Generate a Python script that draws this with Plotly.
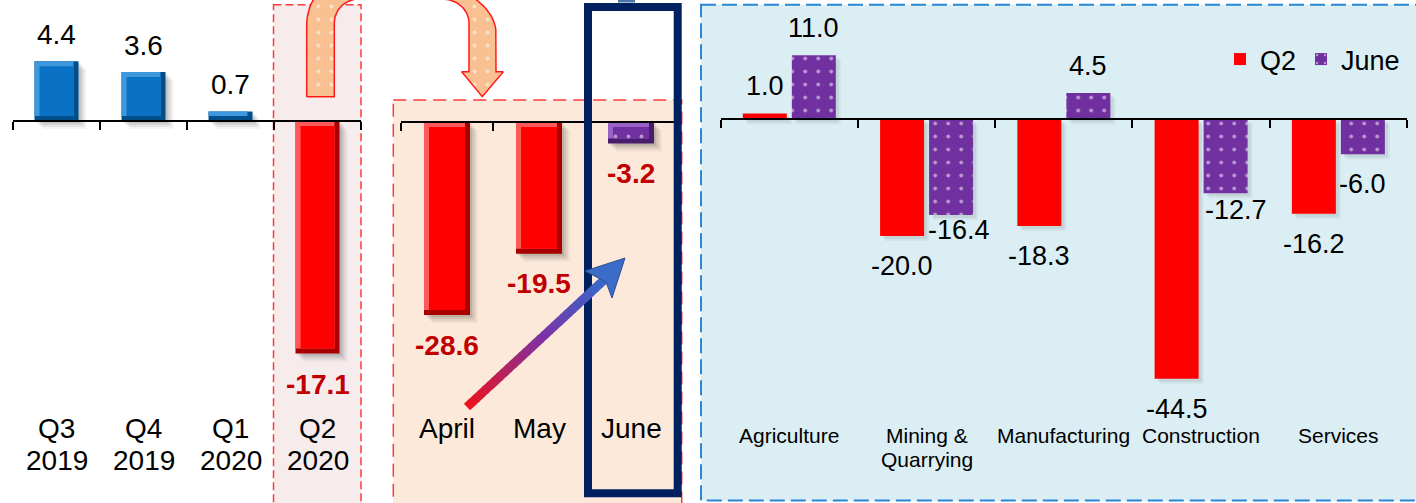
import numpy as np
import plotly.graph_objects as go

W, H = 1416, 503
FONT = "Arial, 'Liberation Sans', Helvetica, sans-serif"

# ---------------- data ----------------
quarters = ["Q3<br>2019", "Q4<br>2019", "Q1<br>2020", "Q2<br>2020"]
quarter_growth = [4.4, 3.6, 0.7, -17.1]

months = ["April", "May", "June"]
month_growth = [-28.6, -19.5, -3.2]

sectors = ["Agriculture", "Mining &<br>Quarrying", "Manufacturing", "Construction", "Services"]
sector_q2 = [1.0, -20.0, -18.3, -44.5, -16.2]
sector_june = [11.0, -16.4, 4.5, -12.7, -6.0]
series_names = ["Q2", "June"]

# ---------------- styling ----------------
RED, RED_DARK, RED_LIGHT = "#FF0000", "#A80000", "#FF5A5A"
BLUE, BLUE_DARK, BLUE_LIGHT = "#0A72C4", "#004E8A", "#3E98DE"
PURPLE, PURPLE_DARK, PURPLE_LIGHT = "#7030A0", "#4A1C6E", "#9A62C8"
LABEL_RED = "#C00000"
DOTS = dict(shape=".", fgcolor="white", size=13, solidity=0.07)

# panel geometry in pixels: left edge, right edge, zero-line y, pixels per point
PANELS = {
    "x": (13.0, 361.0, 121.0, 13.6),
    "x2": (401.0, 677.0, 122.0, 6.75),
    "x3": (720.7, 1407.0, 119.3, 5.83),
}


def fx(p):
    return p / W


def fy(p):
    return 1 - p / H


fig = go.Figure()


def add_layer(ax, cats, lows, highs, offset, width, color, pattern=None,
              name=None, showlegend=False):
    fig.add_trace(go.Bar(
        x=cats, y=[h - l for l, h in zip(lows, highs)], base=lows,
        offset=offset, width=width,
        xaxis=ax, yaxis=ax.replace("x", "y"),
        marker=dict(color=color, line=dict(width=0), pattern=pattern or {}),
        hoverinfo="skip", name=name, showlegend=showlegend,
    ))


def add_shadow(ax, cats, vals, off, w, layers):
    left, right, zero, ppu = PANELS[ax]
    cat_px = (right - left) / len(cats)
    for d, a in layers:
        lows = [min(v, 0) - d / ppu for v in vals]
        highs = [max(v, 0) - d / ppu for v in vals]
        add_layer(ax, cats, lows, highs, off + d / cat_px, w, f"rgba(30,30,30,{a})")


def bevel_bars(ax, cats, vals, bar_px, face, dark, light, patterns, inset=5):
    left, right, zero, ppu = PANELS[ax]
    cat_px = (right - left) / len(cats)
    w = bar_px / cat_px
    off = -w / 2
    add_shadow(ax, cats, vals, off, w, ((8, 0.05), (6, 0.07), (4, 0.09), (2, 0.10)))
    iy, ix = inset / ppu, inset / cat_px
    lo = [min(v, 0) for v in vals]
    hi = [max(v, 0) for v in vals]
    add_layer(ax, cats, lo, hi, off, w, dark)
    add_layer(ax, cats, [l + iy for l in lo], hi, off, w - ix, light)
    face_hi = [max(h - iy, l + iy) for l, h in zip(lo, hi)]
    for i in range(len(cats)):
        add_layer(ax, [cats[i]], [lo[i] + iy], [face_hi[i]], off + ix, w - 2 * ix,
                  face[i], patterns[i])


# ---- quarterly panel ----
q_face = [BLUE if v > 0 else RED for v in quarter_growth]
q_dark = [BLUE_DARK if v > 0 else RED_DARK for v in quarter_growth]
q_light = [BLUE_LIGHT if v > 0 else RED_LIGHT for v in quarter_growth]
bevel_bars("x", quarters, quarter_growth, 44, q_face, q_dark, q_light,
           [None] * len(quarters))

# ---- monthly panel ----
m_face = [RED, RED, PURPLE]
m_dark = [RED_DARK, RED_DARK, PURPLE_DARK]
m_light = [RED_LIGHT, RED_LIGHT, PURPLE_LIGHT]
m_pat = [None, None, dict(DOTS, bgcolor=PURPLE)]
bevel_bars("x2", months, month_growth, 46, m_face, m_dark, m_light, m_pat)

# ---- sector panel (grouped) ----
left3, right3, zero3, ppu3 = PANELS["x3"]
cat3 = (right3 - left3) / len(sectors)
bar_px, gap_px = 44, 5
w3 = bar_px / cat3
offsets = [-(bar_px + gap_px / 2) / cat3, (gap_px / 2) / cat3]
for vals, off in zip((sector_q2, sector_june), offsets):
    add_shadow("x3", sectors, vals, off, w3, ((5, 0.05), (3, 0.07)))
add_layer("x3", sectors, [min(v, 0) for v in sector_q2], [max(v, 0) for v in sector_q2],
          offsets[0], w3, RED, name=series_names[0], showlegend=True)
add_layer("x3", sectors, [min(v, 0) for v in sector_june], [max(v, 0) for v in sector_june],
          offsets[1], w3, PURPLE, pattern=dict(DOTS, bgcolor=PURPLE),
          name=series_names[1], showlegend=True)

# ---------------- value labels ----------------
ABOVE, BELOW = 27, 30


def value_label(ax, i, v, size, color, bold, xshift=0, nudge_y=0):
    txt = f"{v:.1f}"
    fig.add_annotation(
        x=i, y=v, xref=ax, yref=ax.replace("x", "y"),
        text=f"<b>{txt}</b>" if bold else txt, showarrow=False,
        xshift=xshift, yshift=(ABOVE if v > 0 else -BELOW) + nudge_y,
        font=dict(size=size, color=color, family=FONT),
    )


for i, v in enumerate(quarter_growth):
    if v > 0:
        value_label("x", i, v, 28, "black", False)
    else:
        value_label("x", i, v, 28, LABEL_RED, True, nudge_y=-1)
for i, v in enumerate(month_growth):
    value_label("x2", i, v, 28, LABEL_RED, True)

pair_shift = (bar_px + gap_px) / 2
june_nudge = [(0, 0), (8, 15), (0, 0), (10, 13), (0, 0)]
for i, v in enumerate(sector_q2):
    value_label("x3", i, v, 27, "black", False, xshift=-pair_shift)
for i, v in enumerate(sector_june):
    dx, dy = june_nudge[i]
    value_label("x3", i, v, 27, "black", False, xshift=pair_shift + dx, nudge_y=dy)

# ---------------- category labels ----------------


def category_labels(ax, cats, y0, step, size):
    for i, lab in enumerate(cats):
        for j, line in enumerate(lab.split("<br>")):
            fig.add_annotation(
                x=i, y=fy(y0 + step * j), xref=ax, yref="paper", text=line,
                showarrow=False, yanchor="middle",
                font=dict(size=size, color="black", family=FONT),
            )


category_labels("x", quarters, 428, 32, 28)
category_labels("x2", months, 428, 32, 28)
category_labels("x3", sectors, 435, 24, 21)

# ---------------- panel frames ----------------


def rect(x0, y0, x1, y1, **kw):
    fig.add_shape(type="rect", xref="paper", yref="paper",
                  x0=fx(x0), x1=fx(x1), y0=fy(y0), y1=fy(y1), **kw)


rect(273.5, 4.7, 361, 520, fillcolor="#F6ECEC",
     line=dict(color="#FF3B3B", width=1.5, dash="8px,4px"), layer="below")
rect(393.3, 100, 681.7, 520, fillcolor="#FCE9DA",
     line=dict(color="#FF3B3B", width=1.5, dash="13px,7px"), layer="below")
rect(701, 4.7, 1440, 500.5, fillcolor="#DAEEF3",
     line=dict(color="#2A86D6", width=2, dash="15px,6px"), layer="below")

# highlight frame round June
rect(588, 7, 677.7, 493.3, fillcolor="rgba(0,0,0,0)",
     line=dict(color="#002060", width=8), layer="above")
rect(618, -3, 635, 2.5, fillcolor="#4A76A8", line=dict(width=0), layer="above")

# rising gradient arrow across the months
tail = np.array([467.0, 407.0])
neck = np.array([604.0, 280.0])
stops = [(0.0, (235, 20, 30)), (0.55, (125, 50, 165)), (1.0, (55, 105, 205))]


def grad(t):
    for (t0, c0), (t1, c1) in zip(stops[:-1], stops[1:]):
        if t <= t1:
            u = (t - t0) / (t1 - t0)
            return "rgb(%d,%d,%d)" % tuple(int(a + (b - a) * u) for a, b in zip(c0, c1))
    return "rgb(%d,%d,%d)" % stops[-1][1]


n_seg = 30
for k in range(n_seg):
    p0 = tail + (neck - tail) * k / n_seg
    p1 = tail + (neck - tail) * min(1.0, (k + 1.2) / n_seg)
    fig.add_shape(type="line", xref="paper", yref="paper",
                  x0=fx(p0[0]), y0=fy(p0[1]), x1=fx(p1[0]), y1=fy(p1[1]),
                  line=dict(color=grad(k / (n_seg - 1)), width=9), layer="above")
head = [(625, 258), (585, 271), (606, 282), (612, 298)]
head_path = "M " + " L ".join(f"{fx(x)},{fy(y)}" for x, y in head) + " Z"
fig.add_shape(type="path", xref="paper", yref="paper", path=head_path,
              fillcolor="#3A6CC8", line=dict(color="#2A4F96", width=1), layer="above")

# ---------------- curved transition arrow (pixel overlay axes) ----------------


def arc(cx, cy, rx, ry, a0, a1, n=28):
    t = np.radians(np.linspace(a0, a1, n))
    return list(cx + rx * np.cos(t)), list(cy - ry * np.sin(t))


xs, ys = [306.7, 334.3, 334.3], [96.7, 96.7, 23.0]
for seg in (arc(358.7, 23, 24.4, 24, 180, 90), arc(442.4, 23, 26.6, 24, 90, 0)):
    xs += seg[0]
    ys += seg[1]
xs += [469, 461.7, 482.3, 503.3, 496, 496]
ys += [71.7, 71.7, 96.7, 71.7, 71.7, 33]
for seg in (arc(379, 33, 117, 60, 0, 90), arc(357.7, 25, 51, 52, 90, 180)):
    xs += seg[0]
    ys += seg[1]
xs.append(xs[0])
ys.append(ys[0])
fig.add_trace(go.Scatter(
    x=xs, y=ys, xaxis="x4", yaxis="y4", mode="lines", fill="toself",
    fillcolor="#F9C191",
    fillpattern=dict(shape=".", fgcolor="white", bgcolor="#F9C191", size=13, solidity=0.07),
    line=dict(color="#FF1A1A", width=1.5), hoverinfo="skip", showlegend=False,
))

# ---------------- layout ----------------
layout = dict(
    width=W, height=H, margin=dict(l=0, r=0, t=0, b=0),
    paper_bgcolor="white", plot_bgcolor="rgba(0,0,0,0)",
    barmode="overlay", font=dict(family=FONT, color="black"),
    legend=dict(orientation="h", x=fx(1220), y=fy(35), xanchor="left", yanchor="top",
                bgcolor="rgba(0,0,0,0)", font=dict(size=27, family=FONT, color="black"),
                itemclick=False, itemdoubleclick=False, traceorder="normal"),
)
for ax, cats in (("x", quarters), ("x2", months), ("x3", sectors)):
    left, right, zero, ppu = PANELS[ax]
    suffix = ax[1:]
    layout["xaxis" + suffix] = dict(
        domain=[fx(left), fx(right)], range=[-0.5, len(cats) - 0.5],
        type="category", categoryorder="array", categoryarray=cats,
        anchor="free", position=fy(zero),
        showline=True, linecolor="black", linewidth=1.5,
        ticks="outside", ticklen=8, tickwidth=1.5, tickcolor="black",
        tickson="boundaries", showticklabels=False, showgrid=False,
        zeroline=False, fixedrange=True,
    )
    layout["yaxis" + suffix] = dict(
        domain=[0, 1], range=[-(H - zero) / ppu, zero / ppu], visible=False,
        anchor="free", position=0, fixedrange=True,
    )
layout["xaxis4"] = dict(domain=[0, 1], range=[0, W], visible=False, fixedrange=True,
                        anchor="free", position=0)
layout["yaxis4"] = dict(domain=[0, 1], range=[H, 0], visible=False, fixedrange=True,
                        anchor="free", position=0)
fig.update_layout(**layout)

fig.write_html("out.html")
